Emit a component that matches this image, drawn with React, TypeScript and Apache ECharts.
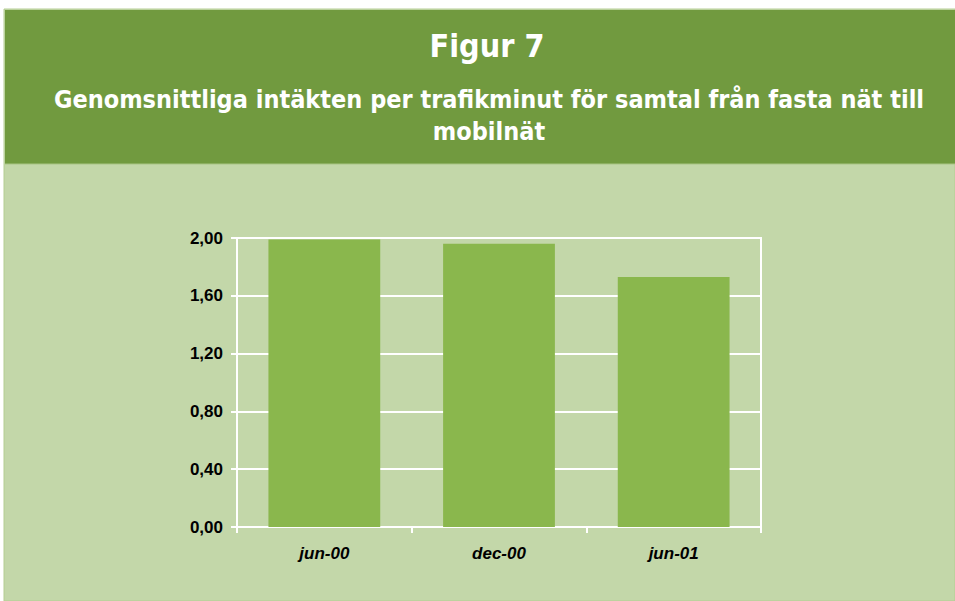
import React, { useEffect, useRef } from "react";
import * as echarts from "echarts";

const categories = ["jun-00", "dec-00", "jun-01"];
const values = [1.99, 1.96, 1.73];
const titleText = "Figur 7";
const subtitleLines = [
  "Genomsnittliga intäkten per trafikminut för samtal från fasta nät till",
  "mobilnät",
];

export default function App() {
  const ref = useRef<HTMLDivElement>(null);
  useEffect(() => {
    document.body.style.margin = "0";
    const chart = echarts.init(ref.current!, null, { renderer: "svg" });
    chart.setOption({
      animation: false,
      backgroundColor: "#ffffff",
      graphic: [
        {
          type: "rect",
          z: -10,
          shape: { x: 4, y: 9, width: 951, height: 592 },
          style: { fill: "#C3D7A9", stroke: "#B4CD92", lineWidth: 1 },
        },
        {
          type: "rect",
          z: -9,
          shape: { x: 5, y: 10, width: 950, height: 154 },
          style: { fill: "#719A3F" },
        },
        {
          type: "line",
          z: -8,
          shape: { x1: 5, y1: 164, x2: 955, y2: 164 },
          style: { stroke: "#A9C585", lineWidth: 1 },
        },
      ],
      title: [
        {
          text: titleText,
          left: 482,
          top: 25,
          textAlign: "center",
          textStyle: {
            color: "#ffffff",
            fontFamily: "DejaVu Sans Condensed",
            fontWeight: "bold",
            fontSize: 32,
          },
        },
        {
          text: subtitleLines.join("\n"),
          left: 484,
          top: 78,
          textAlign: "center",
          textStyle: {
            color: "#ffffff",
            fontFamily: "DejaVu Sans Condensed",
            fontWeight: "bold",
            fontSize: 25,
            lineHeight: 32,
          },
        },
      ],
      grid: {
        left: 237,
        top: 238,
        right: 194,
        bottom: 74,
        show: true,
        borderColor: "#ffffff",
        borderWidth: 2,
        backgroundColor: "transparent",
      },
      xAxis: {
        type: "category",
        data: categories,
        axisLine: { lineStyle: { color: "#ffffff", width: 2 } },
        axisTick: { show: true, length: 6, lineStyle: { color: "#ffffff", width: 2 } },
        axisLabel: {
          color: "#000000",
          fontFamily: "Liberation Sans",
          fontWeight: "bold",
          fontStyle: "italic",
          fontSize: 17,
          margin: 18,
        },
      },
      yAxis: {
        type: "value",
        min: 0,
        max: 2,
        interval: 0.4,
        axisLine: { show: true, lineStyle: { color: "#ffffff", width: 2 } },
        axisTick: { show: true, length: 6, lineStyle: { color: "#ffffff", width: 2 } },
        splitLine: { show: true, lineStyle: { color: "#ffffff", width: 2 } },
        axisLabel: {
          color: "#000000",
          fontFamily: "Liberation Sans",
          fontWeight: "bold",
          fontSize: 17,
          margin: 14,
          formatter: (v: number) => v.toFixed(2).replace(".", ","),
        },
      },
      series: [
        {
          type: "bar",
          data: values,
          barCategoryGap: "36%",
          itemStyle: { color: "#8AB74D" },
        },
      ],
    });
    return () => chart.dispose();
  }, []);
  return <div ref={ref} style={{ width: 955, height: 601 }} />;
}
